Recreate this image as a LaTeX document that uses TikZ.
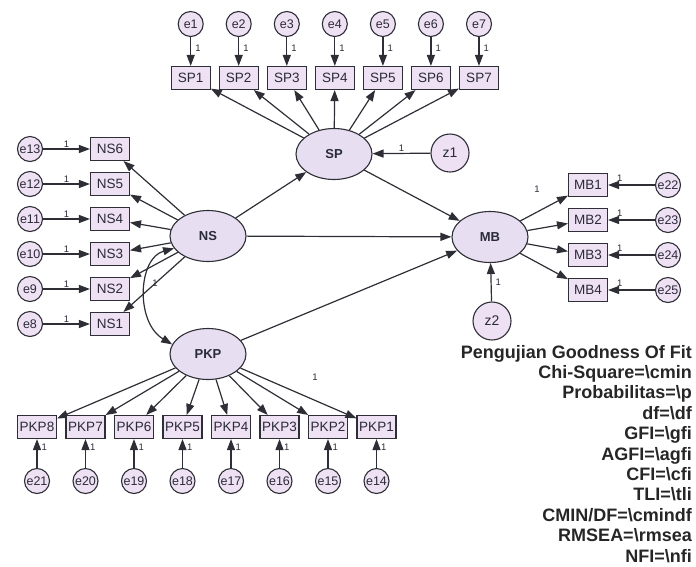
\documentclass[tikz,border=0pt]{standalone}
\usepackage{fontspec}
\setmainfont{Liberation Sans}
\usetikzlibrary{arrows.meta,shapes.geometric}
\definecolor{nfill}{HTML}{EEE1F3}
\definecolor{efill}{HTML}{E7DEF1}
\definecolor{lc}{HTML}{2E2E36}
\definecolor{tc}{HTML}{2A2A38}
\tikzset{
 obs/.style={draw=lc, line width=1.1pt, fill=nfill, minimum width=39pt, minimum height=23pt, inner sep=0pt, font=\fontsize{13.5}{14}\selectfont, text=tc},
 lat/.style={ellipse, draw=lc, line width=1.1pt, fill=efill, minimum width=76pt, minimum height=51pt, inner sep=0pt, font=\bfseries\fontsize{13}{14}\selectfont, text=tc},
 err/.style={circle, draw=lc, line width=1.1pt, fill=nfill, minimum size=25pt, inner sep=0pt, font=\fontsize{12.5}{13}\selectfont, text=tc},
 dist/.style={circle, draw=lc, line width=1.1pt, fill=nfill, minimum size=38pt, inner sep=0pt, font=\fontsize{14}{15}\selectfont, text=tc},
 pth/.style={draw=lc, line width=1.2pt, -{Triangle[length=11pt,width=8pt]}},
 one/.style={font=\fontsize{9.5}{10}\selectfont, text=tc, inner sep=1pt},
 fitline/.style={font=\bfseries\fontsize{18}{19}\selectfont, anchor=base east, text=black!85, inner sep=0pt},
}
\begin{document}
\begin{tikzpicture}[x=1pt,y=-1pt]
\useasboundingbox (0,0) rectangle (696,566);
% SP block
\node[lat] (SP) at (334,154) {SP};
\node[dist] (z1) at (450,153) {z1};
\foreach \i/\x in {1/190.7,2/238.7,3/286.8,4/334.8,5/382.9,6/430.9,7/479}{
  \node[obs] (SP\i) at (\x,78) {SP\i};
  \node[err] (e\i) at (\x,24) {e\i};
  \draw[pth] (e\i) -- node[one, right=3pt, pos=0.4] {1} (SP\i);
  \draw[pth] (SP) -- (SP\i);
}
\draw[pth] (z1) -- node[one, above] {1} (SP);
% NS block
\node[lat] (NS) at (208,236) {NS};
\foreach \i/\e/\y in {6/13/149,5/12/184,4/11/219,3/10/254,2/9/289,1/8/324}{
  \node[obs] (NS\i) at (110,\y) {NS\i};
  \node[err] (e\e) at (30,\y) {e\e};
  \draw[pth] (e\e) -- node[one, above] {1} (NS\i);
  \draw[pth] (NS) -- (NS\i);
}
\node[one] (lns) at (155,283) {1};
% PKP block
\node[lat] (PKP) at (208,354) {PKP};
\foreach \i/\e/\x in {8/21/37,7/20/85.5,6/19/134,5/18/182.5,4/17/231,3/16/279.5,2/15/328,1/14/376.5}{
  \node[obs] (PKP\i) at (\x,427) {PKP\i};
  \node[err] (e\e) at (\x,481) {e\e};
  \draw[pth] (e\e) -- node[one, right=3pt, pos=0.7] {1} (PKP\i);
  \draw[pth] (PKP) -- (PKP\i);
}
\node[one] (lpkp) at (315,377) {1};
% MB block
\node[lat] (MB) at (490,237) {MB};
\node[dist] (z2) at (492,321) {z2};
\foreach \i/\e/\y in {1/22/185,2/23/220,3/24/255,4/25/290}{
  \node[obs] (MB\i) at (588,\y) {MB\i};
  \node[err] (e\e) at (668,\y) {e\e};
  \draw[pth] (e\e) -- node[one, above=2pt, pos=0.75] {1} (MB\i);
  \draw[pth] (MB) -- (MB\i);
}
\node[one] (lmb) at (537,189) {1};
\draw[pth] (z2) -- node[one, right=3pt, pos=0.5] {1} (MB);
% structural paths
\draw[pth] (NS) -- (SP);
\draw[pth] (NS) -- (MB);
\draw[pth] (SP) -- (MB);
\draw[pth] (PKP) -- (MB);
\draw[draw=lc, line width=1.2pt, {Triangle[length=11pt,width=8pt]}-{Triangle[length=11pt,width=8pt]}]
  (NS.200) .. controls (138,258) and (135,322) .. (PKP.165);
% fit block
\node[fitline] (f0) at (692,358) {Pengujian Goodness Of Fit};
\node[fitline] (f1) at (692,378.4) {Chi-Square=\textbackslash cmin};
\node[fitline] (f2) at (692,398.8) {Probabilitas=\textbackslash p};
\node[fitline] (f3) at (692,419.2) {df=\textbackslash df};
\node[fitline] (f4) at (692,439.6) {GFI=\textbackslash gfi};
\node[fitline] (f5) at (692,460) {AGFI=\textbackslash agfi};
\node[fitline] (f6) at (692,480.4) {CFI=\textbackslash cfi};
\node[fitline] (f7) at (692,500.8) {TLI=\textbackslash tli};
\node[fitline] (f8) at (692,521.2) {CMIN/DF=\textbackslash cmindf};
\node[fitline] (f9) at (692,541.6) {RMSEA=\textbackslash rmsea};
\node[fitline] (f10) at (692,562) {NFI=\textbackslash nfi};
\end{tikzpicture}
\end{document}
